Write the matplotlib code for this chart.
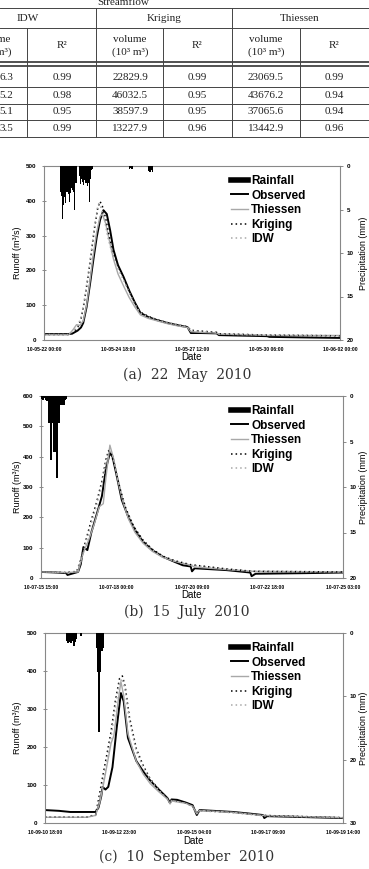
import matplotlib.pyplot as plt
from matplotlib.lines import Line2D

plt.rcParams['font.family'] = ['Liberation Sans', 'DejaVu Sans']
plt.rcParams['font.weight'] = 'bold'

# ---- table (top, cropped) ----
methods = ["IDW", "Kriging", "Thiessen"]
idw_vol_cut = ["6.3", "5.2", "5.1", "3.5"]
idw_r2 = ["0.99", "0.98", "0.95", "0.99"]
krig_vol = ["22829.9", "46032.5", "38597.9", "13227.9"]
krig_r2 = ["0.99", "0.95", "0.95", "0.96"]
thi_vol = ["23069.5", "43676.2", "37065.6", "13442.9"]
thi_r2 = ["0.99", "0.94", "0.94", "0.96"]

# ---- (a) 22 May 2010 ----
xlab_a = ["10-05-22 00:00", "10-05-24 18:00", "10-05-27 12:00", "10-05-30 06:00", "10-06-02 00:00"]
rain_a_t = [14, 15, 16, 17, 18, 19, 20, 21, 22, 23, 24, 25, 26, 27, 28, 31, 32, 33, 34, 35, 36, 37, 38, 39, 40, 41, 42, 43,
            76, 77, 78, 93, 94, 95, 96]
rain_a = [3.0, 3.5, 6.1, 4.5, 3.6, 4.2, 3.0, 3.2, 4.1, 3.1, 2.5, 2.8, 3.0, 5.0, 2.0, 1.2, 2.1, 1.5, 1.8, 2.2, 1.6, 1.9, 2.3, 2.0, 4.1, 1.5, 0.5, 0.3,
          0.3, 0.2, 0.3, 0.6, 0.7, 0.5, 0.7]
obs_a_t = [0, 20, 25, 30, 33, 35, 38, 41, 44, 47, 50, 53, 56, 59, 62, 66, 71, 76, 81, 86, 93, 101, 110, 120, 128, 131, 140, 154, 156, 170, 185, 199, 201, 220, 240, 264]
obs_a = [17, 17, 18, 27, 36, 49, 95, 160, 230, 295, 345, 373, 362, 315, 259, 215, 181, 142, 108, 78, 66, 57, 49, 42, 37, 20, 20, 19, 14, 13, 12, 11, 9, 8, 7, 6]
thi_a_t = [0, 22, 26, 29, 32, 35, 38, 41, 44, 47, 50, 52, 55, 58, 62, 66, 71, 76, 81, 86, 93, 101, 110, 120, 128, 131, 140, 154, 156, 185, 201, 264]
thi_a = [15, 15, 30, 44, 42, 55, 100, 170, 245, 310, 355, 362, 335, 290, 232, 190, 155, 122, 95, 72, 62, 55, 47, 40, 36, 24, 22, 20, 17, 15, 13, 13]
krig_a_t = [0, 22, 26, 30, 33, 36, 39, 42, 45, 48, 50, 52, 55, 58, 62, 66, 71, 76, 81, 86, 93, 101, 110, 120, 128, 131, 154, 156, 201, 264]
krig_a = [16, 16, 22, 35, 60, 110, 175, 245, 320, 380, 398, 385, 350, 300, 250, 212, 178, 140, 106, 80, 68, 58, 50, 43, 38, 28, 22, 18, 14, 12]
idw_a_t = [0, 22, 26, 30, 33, 36, 39, 42, 45, 48, 49, 51, 54, 57, 61, 66, 71, 76, 81, 86, 93, 101, 110, 120, 128, 131, 154, 156, 201, 264]
idw_a = [16, 16, 25, 40, 65, 115, 180, 250, 325, 385, 392, 380, 345, 295, 245, 205, 172, 136, 103, 78, 66, 57, 49, 42, 37, 27, 21, 17, 14, 12]

# ---- (b) 15 July 2010 ----
xlab_b = ["10-07-15 15:00", "10-07-18 00:00", "10-07-20 09:00", "10-07-22 18:00", "10-07-25 03:00"]
rain_b_t = [0, 1, 2, 3, 4, 5, 6, 7, 8, 9, 10, 11, 12, 13, 14, 15, 16, 17, 18, 19]
rain_b = [0.3, 0.4, 0.2, 0.4, 0.5, 3.0, 3.0, 7.0, 3.0, 6.2, 6.2, 9.0, 9.0, 3.0, 1.0, 1.0, 1.0, 1.0, 0.4, 0.3]
obs_b_t = [0, 12, 19, 20, 28, 30, 32, 35, 38, 43, 46, 49, 52, 54, 57, 61, 66, 71, 77, 84, 92, 101, 107, 113, 114, 116, 140, 158, 159, 162, 200, 228]
obs_b = [20, 18, 16, 10, 20, 45, 102, 92, 150, 224, 270, 360, 412, 400, 340, 257, 200, 158, 120, 92, 70, 53, 42, 38, 22, 32, 26, 18, 6, 14, 16, 18]
thi_b_t = [0, 19, 28, 31, 33, 36, 40, 44, 47, 49, 52, 55, 58, 62, 66, 71, 77, 84, 92, 101, 113, 116, 140, 160, 228]
thi_b = [20, 18, 20, 70, 95, 125, 175, 235, 245, 330, 438, 390, 320, 250, 195, 150, 115, 88, 68, 55, 42, 36, 28, 22, 20]
krig_b_t = [0, 19, 27, 30, 33, 38, 42, 46, 49, 51, 53, 56, 60, 64, 70, 77, 84, 92, 101, 113, 140, 160, 228]
krig_b = [20, 18, 22, 60, 110, 191, 250, 320, 390, 420, 410, 360, 290, 230, 170, 125, 95, 72, 57, 44, 30, 22, 20]
idw_b_t = [0, 19, 27, 30, 33, 38, 42, 46, 49, 52, 54, 57, 60, 64, 70, 77, 84, 92, 101, 113, 140, 160, 228]
idw_b = [20, 18, 21, 55, 100, 180, 240, 310, 380, 425, 405, 350, 290, 228, 168, 122, 93, 70, 55, 43, 29, 22, 20]

# ---- (c) 10 September 2010 ----
xlab_c = ["10-09-10 18:00", "10-09-12 23:00", "10-09-15 04:00", "10-09-17 09:00", "10-09-19 14:00"]
rain_c_t = [15, 16, 17, 18, 19, 20, 21, 22, 25, 36, 37, 38, 39, 40, 41]
rain_c = [1.2, 1.5, 1.4, 1.6, 1.2, 2.1, 1.4, 1.0, 0.5, 2.4, 6.2, 15.6, 6.2, 2.8, 2.4]
obs_c_t = [0, 10, 18, 36, 38, 40, 41, 43, 45, 48, 51, 54, 56, 59, 65, 70, 75, 81, 87, 89, 90, 94, 100, 105, 108, 110, 120, 134, 145, 155, 156, 158, 180, 212]
obs_c = [34, 32, 29, 29, 40, 70, 95, 88, 95, 147, 250, 342, 320, 224, 163, 135, 111, 88, 66, 53, 62, 61, 54, 47, 21, 34, 32, 29, 25, 21, 13, 18, 16, 13]
thi_c_t = [0, 30, 36, 39, 41, 44, 47, 49, 52, 54, 56, 59, 65, 70, 75, 81, 87, 89, 90, 100, 105, 108, 110, 134, 155, 212]
thi_c = [15, 15, 20, 55, 90, 150, 210, 230, 320, 372, 335, 235, 162, 128, 103, 82, 63, 50, 58, 52, 44, 24, 33, 28, 20, 14]
krig_c_t = [0, 30, 36, 38, 41, 44, 47, 50, 53, 55, 57, 60, 65, 70, 75, 81, 87, 89, 90, 100, 105, 108, 110, 134, 155, 212]
krig_c = [16, 16, 22, 60, 121, 180, 240, 320, 380, 387, 360, 280, 195, 150, 115, 88, 66, 52, 60, 53, 45, 25, 33, 28, 20, 14]
idw_c_t = [0, 30, 36, 38, 41, 44, 47, 50, 53, 55, 57, 60, 65, 70, 75, 81, 87, 89, 90, 100, 105, 108, 110, 134, 155, 212]
idw_c = [16, 16, 20, 50, 105, 165, 225, 305, 370, 380, 350, 270, 188, 145, 112, 86, 64, 51, 59, 52, 44, 24, 32, 27, 19, 14]

W, H = 369, 869
fig = plt.figure(figsize=(W / 100, H / 100), dpi=100)

# table drawn in pixel coords
tab = fig.add_axes([0, 0, 1, 1])
tab.set_xlim(0, W)
tab.set_ylim(H, 0)
tab.axis('off')
serif = dict(family='Liberation Serif', fontweight='normal', fontsize=8, ha='center', va='center', color='#222222')
lc = '#444444'
tab.text(123, 5, "Streamflow", **{**serif, 'va': 'baseline'})
for y in [8, 28, 87, 104, 120, 137]:
    tab.plot([0, W], [y, y], color=lc, lw=0.7)
for y in [62, 65.5]:
    tab.plot([0, W], [y, y], color='#222222', lw=1.1)
for x in [96, 232]:
    tab.plot([x, x], [8, 137], color=lc, lw=0.7)
for x in [27, 163, 300]:
    tab.plot([x, x], [28, 137], color=lc, lw=0.7)
for m, x in zip(methods, [28, 164, 300]):
    tab.text(x, 18.5, m, **serif)
for x in [-6.5, 130, 266]:
    tab.text(x, 40, "volume", **serif)
    tab.text(x, 52, "(10³ m³)", **serif)
for x in [62, 197, 334]:
    tab.text(x, 45, "R²", **serif)
row_y = [77, 95.5, 112, 128.5]
for i, y in enumerate(row_y):
    tab.text(13, y, idw_vol_cut[i], **{**serif, 'ha': 'right'})
    tab.text(62, y, idw_r2[i], **serif)
    tab.text(130, y, krig_vol[i], **serif)
    tab.text(197, y, krig_r2[i], **serif)
    tab.text(266, y, thi_vol[i], **serif)
    tab.text(334, y, thi_r2[i], **serif)


def hydrograph(box, tmax, xlabels, ymax, pmax, pticks, rain_t, rain, obs, thi, krig, idw, caption, cap_y):
    left, right, top, bottom = box
    ax = fig.add_axes([left / W, (H - bottom) / H, (right - left) / W, (bottom - top) / H])
    ax.set_xlim(0, tmax)
    ax.set_ylim(0, ymax)
    ax.plot(obs[0], obs[1], color='black', lw=1.4)
    ax.plot(thi[0], thi[1], color='#a8a8a8', lw=1.0)
    ax.plot(krig[0], krig[1], color='black', lw=1.1, ls=(0, (1, 2)))
    ax.plot(idw[0], idw[1], color='#a8a8a8', lw=1.1, ls=(0, (1, 2)))
    ax.set_yticks(range(0, ymax + 1, 100))
    ax.set_xticks([tmax * k / 4 for k in range(5)])
    ax.set_xticklabels(xlabels)
    ax.tick_params(axis='x', length=0, pad=5, labelsize=3.6)
    ax.tick_params(axis='y', direction='inout', length=2.5, width=0.6, pad=4.5, labelsize=4.5, color='#777777')
    for s in ax.spines.values():
        s.set_color('#888888')
        s.set_linewidth(0.8)
    ax.set_xlabel("Date", fontsize=7)
    ax.xaxis.label.set_va('center')
    ax.xaxis.set_label_coords(0.5, -17.5 / (bottom - top))
    ax.set_ylabel("Runoff (m³/s)", fontsize=6.5)
    ax.yaxis.label.set_va('center')
    ax.yaxis.set_label_coords((17 - left) / (right - left), 0.5)

    ax2 = ax.twinx()
    ax2.set_ylim(pmax, 0)
    ax2.bar(rain_t, rain, width=1.0, align='edge', color='black', lw=0)
    ax2.set_yticks(pticks)
    ax2.tick_params(axis='y', direction='out', length=2, width=0.6, pad=3, labelsize=4.5, color='#777777')
    for s in ax2.spines.values():
        s.set_visible(False)
    ax2.set_ylabel("Precipitation (mm)", fontsize=6.5)
    ax2.yaxis.label.set_va('center')
    ax2.yaxis.set_label_coords((363.5 - left) / (right - left), 0.5)

    handles = [Line2D([], [], color='black', lw=4),
               Line2D([], [], color='black', lw=1.4),
               Line2D([], [], color='#a8a8a8', lw=1.0),
               Line2D([], [], color='black', lw=1.1, ls=(0, (1, 2))),
               Line2D([], [], color='#a8a8a8', lw=1.1, ls=(0, (1, 2)))]
    names = ["Rainfall", "Observed", "Thiessen", "Kriging", "IDW"]
    ax2.legend(handles, names, loc='upper left', frameon=False, fontsize=8.5,
               bbox_to_anchor=((231 - left) / (right - left), (bottom - (top + 9)) / (bottom - top)),
               borderpad=0, borderaxespad=0, handlelength=1.4, handletextpad=0.3, labelspacing=0.22)
    fig.text(187 / W, 1 - cap_y / H, caption, family='DejaVu Serif', fontweight='normal',
             fontsize=10, ha='center', va='center', color='#333333')


hydrograph((44, 340, 166, 340), 264, xlab_a, 500, 20, [0, 5, 10, 15, 20], rain_a_t, rain_a,
           (obs_a_t, obs_a), (thi_a_t, thi_a), (krig_a_t, krig_a), (idw_a_t, idw_a),
           "(a)  22  May  2010", 375)
hydrograph((41, 343, 396, 578), 228, xlab_b, 600, 20, [0, 5, 10, 15, 20], rain_b_t, rain_b,
           (obs_b_t, obs_b), (thi_b_t, thi_b), (krig_b_t, krig_b), (idw_b_t, idw_b),
           "(b)  15  July  2010", 612)
hydrograph((45, 343, 633, 823), 212, xlab_c, 500, 30, [0, 10, 20, 30], rain_c_t, rain_c,
           (obs_c_t, obs_c), (thi_c_t, thi_c), (krig_c_t, krig_c), (idw_c_t, idw_c),
           "(c)  10  September  2010", 857)

fig.savefig("out.png", dpi=100)
